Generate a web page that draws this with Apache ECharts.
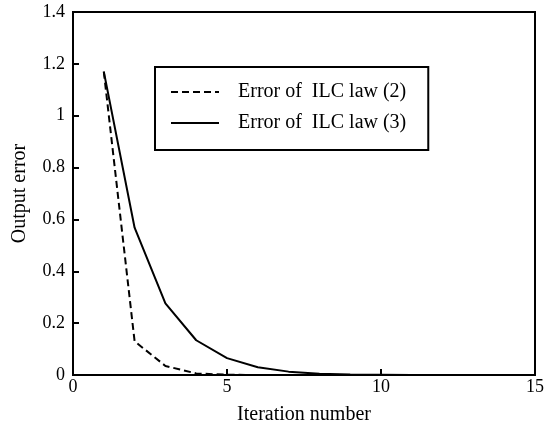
<!DOCTYPE html>
<html>
<head>
<meta charset="utf-8">
<script src="https://cdn.jsdelivr.net/npm/echarts@6/dist/echarts.min.js"></script>
<style>
  html, body { margin: 0; padding: 0; background: #fff; }
  #chart { width: 547px; height: 430px; }
</style>
</head>
<body>
<div id="chart"></div>
<script>
const iterations = [1, 2, 3, 4, 5, 6, 7, 8, 9, 10, 11, 12, 13, 14, 15];
const errorLaw2 = [1.17, 0.13, 0.035, 0.006, 0.001, 0, 0, 0, 0, 0, 0, 0, 0, 0, 0];
const errorLaw3 = [1.17, 0.568, 0.276, 0.134, 0.065, 0.03, 0.013, 0.005, 0.002, 0.001, 0, 0, 0, 0, 0];
const seriesNames = ['Error of  ILC law (2)', 'Error of  ILC law (3)'];

const font = 'Liberation Serif';

function pairs(xs, ys) {
  return xs.map((x, i) => [x, ys[i]]);
}

const axisCommon = {
  axisLine: { show: true, lineStyle: { color: '#000', width: 2 } },
  axisTick: { show: true, inside: true, length: 6, lineStyle: { color: '#000', width: 2 } },
  splitLine: { show: false },
  axisLabel: { color: '#000', fontFamily: font, fontSize: 18 },
  nameTextStyle: { color: '#000', fontFamily: font, fontSize: 20 }
};

const chart = echarts.init(document.getElementById('chart'), null, { renderer: 'canvas' });
chart.setOption({
  animation: false,
  textStyle: { fontFamily: font },
  grid: {
    left: 73, top: 12, width: 465, height: 365,
    show: true, borderColor: '#000', borderWidth: 2, backgroundColor: 'transparent'
  },
  legend: {
    data: seriesNames,
    orient: 'vertical',
    left: 155, top: 67,
    padding: [15, 22, 17, 15],
    itemGap: 11,
    itemWidth: 48,
    itemHeight: 14,
    borderColor: '#000',
    borderWidth: 2,
    itemStyle: { opacity: 0 },
    lineStyle: { width: 2 },
    textStyle: { color: '#000', fontFamily: font, fontSize: 20, padding: [0, 0, 0, 14] }
  },
  xAxis: {
    ...axisCommon,
    type: 'value',
    min: 0, max: 15, interval: 5,
    name: 'Iteration number',
    nameLocation: 'middle',
    nameGap: 30,
    axisLabel: { ...axisCommon.axisLabel, margin: 3 }
  },
  yAxis: {
    ...axisCommon,
    type: 'value',
    min: 0, max: 1.4, interval: 0.2,
    name: 'Output error',
    nameLocation: 'middle',
    nameGap: 43,
    axisLabel: { ...axisCommon.axisLabel, margin: 8, formatter: v => String(Math.round(v * 10) / 10) }
  },
  series: [
    {
      name: seriesNames[0],
      type: 'line',
      data: pairs(iterations, errorLaw2),
      showSymbol: false,
      symbol: 'none',
      lineStyle: { color: '#000', width: 2, type: [7, 4] },
      itemStyle: { color: '#000' }
    },
    {
      name: seriesNames[1],
      type: 'line',
      data: pairs(iterations, errorLaw3),
      showSymbol: false,
      symbol: 'none',
      lineStyle: { color: '#000', width: 2 },
      itemStyle: { color: '#000' }
    }
  ]
});
</script>
</body>
</html>
